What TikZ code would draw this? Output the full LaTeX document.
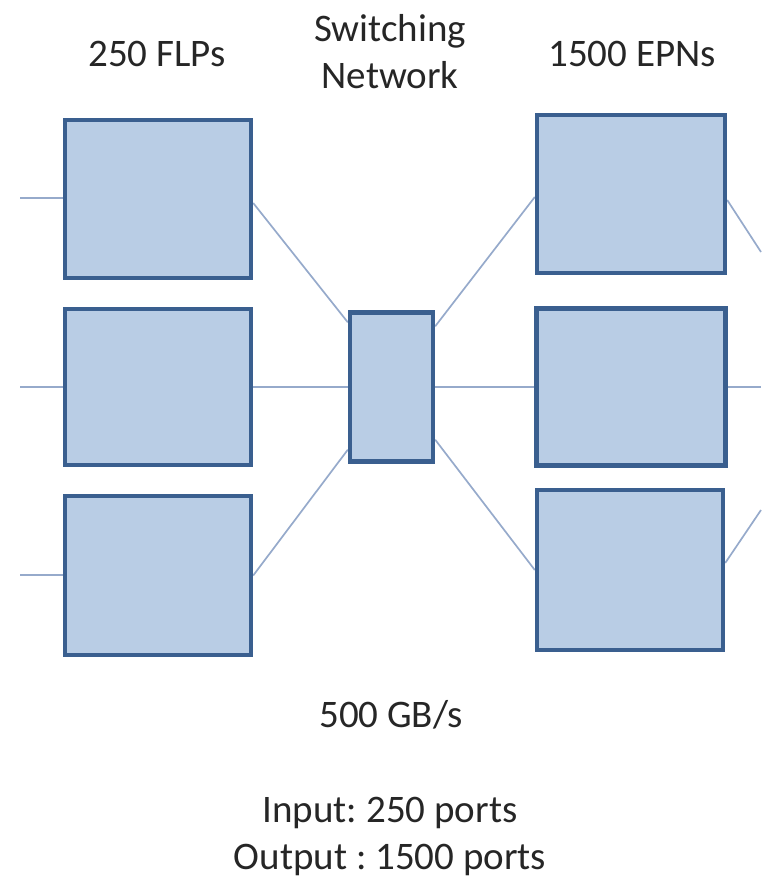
\documentclass[tikz,border=0pt]{standalone}
\usepackage{fontspec}
\setmainfont{Carlito}
\usetikzlibrary{backgrounds}
\definecolor{boxfill}{HTML}{B9CDE5}
\definecolor{boxline}{HTML}{3A5F8F}
\definecolor{wire}{HTML}{96AACB}
\definecolor{txt}{HTML}{262626}
\frenchspacing
\begin{document}
\begin{tikzpicture}[x=1pt,y=-1pt,
  unit/.style={draw=boxline, fill=boxfill, line width=4.4pt, inner sep=0pt, anchor=center},
  wireline/.style={draw=wire, line width=1.7pt},
  lbl/.style={font=\fontsize{39}{47}\selectfont, text=txt, anchor=base, inner sep=0pt, align=center}]
\useasboundingbox (0,0) rectangle (761,881);
% left boxes
\node[unit, minimum width=186pt, minimum height=158pt] (L1) at (158,199) {};
\node[unit, minimum width=186pt, minimum height=156pt] (L2) at (158,387) {};
\node[unit, minimum width=186pt, minimum height=159pt] (L3) at (158,575.5) {};
% switch
\node[unit, minimum width=83pt, minimum height=149pt] (SW) at (391.5,387) {};
% right boxes
\node[unit, minimum width=188pt, minimum height=158pt] (R1) at (631,194) {};
\node[unit, minimum width=189pt, minimum height=157pt] (R2) at (631,387) {};
\node[unit, minimum width=186pt, minimum height=160pt] (R3) at (630,570) {};
% free ends
\coordinate (i1) at (20,198);
\coordinate (i2) at (20,387);
\coordinate (i3) at (20,575);
\coordinate (o1) at (761,252);
\coordinate (o2) at (761,387);
\coordinate (o3) at (761,510);
\begin{scope}[on background layer]
\draw[wireline] (i1) -- (L1.west |- i1);
\draw[wireline] (i2) -- (L2.west |- i2);
\draw[wireline] (i3) -- (L3.west |- i3);
\draw[wireline] ([yshift=-4pt]L1.east) -- ([yshift=-12pt]SW.north west);
\draw[wireline] (L2.east) -- (SW.west);
\draw[wireline] (L3.east) -- ([yshift=14pt]SW.south west);
\draw[wireline] ([yshift=-16pt]SW.north east) -- ([yshift=-3pt]R1.west);
\draw[wireline] (SW.east) -- (R2.west);
\draw[wireline] ([yshift=24pt]SW.south east) -- (R3.west);
\draw[wireline] ([yshift=-6pt]R1.east) -- (o1);
\draw[wireline] (R2.east) -- (o2);
\draw[wireline] ([yshift=7pt]R3.east) -- (o3);
\end{scope}
% labels
\node[lbl] (tFLP) at (157,66) {250 FLPs};
\node[lbl] (tSW1) at (390,41) {Switching};
\node[lbl] (tSW2) at (390,88) {Network};
\node[lbl] (tEPN) at (632,66) {1500 EPNs};
\node[lbl] (tBW) at (391,727) {500 GB/s};
\node[lbl] (tIn) at (390,822) {Input: 250 ports};
\node[lbl] (tOut) at (390,869) {Output : 1500 ports};
\end{tikzpicture}
\end{document}
